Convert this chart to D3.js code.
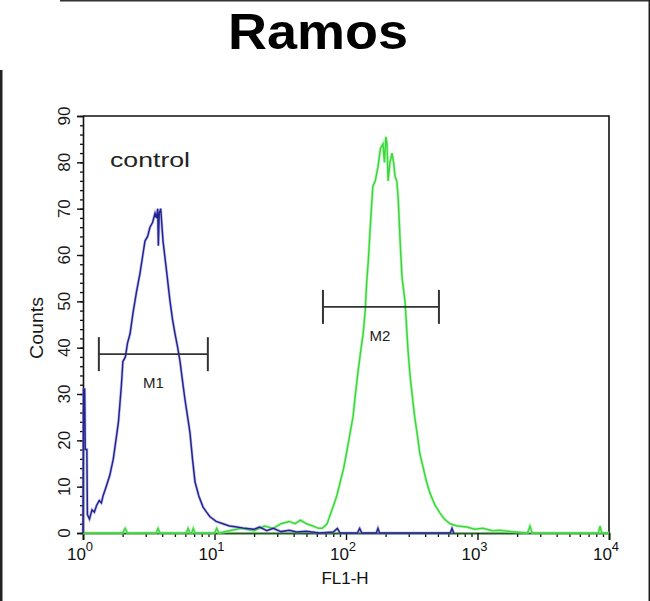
<!DOCTYPE html>
<html>
<head>
<meta charset="utf-8">
<script src="https://cdn.jsdelivr.net/npm/d3@7"></script>
<style>
  html, body { margin: 0; padding: 0; background: #fff; }
  svg { display: block; }
  text { font-family: "Liberation Sans", Arial, sans-serif; }
</style>
</head>
<body>
<svg id="chart" width="650" height="601"></svg>
<script>
// ---------------- data ----------------
const chartTitle = "Ramos";
const xLabel = "FL1-H";
const yLabel = "Counts";
const annotation = "control";
const xTickExponents = [0, 1, 2, 3, 4];
const yTickValues = [0, 10, 20, 30, 40, 50, 60, 70, 80, 90];

// control histogram (blue)
const controlFL1 = [1.00, 1.01, 1.03, 1.04, 1.07, 1.08, 1.12, 1.17, 1.22, 1.27, 1.33, 1.38, 1.42, 1.50, 1.60, 1.70, 1.80, 1.86, 1.91, 1.96, 2.01, 2.10, 2.18, 2.28, 2.40, 2.55, 2.71, 2.85, 2.96, 3.10, 3.23, 3.38, 3.53, 3.62, 3.70, 3.74, 3.80, 3.90, 4.06, 4.30, 4.59, 4.80, 5.01, 5.25, 5.47, 5.70, 5.97, 6.25, 6.51, 6.80, 7.11, 7.60, 8.18, 8.70, 9.24, 10.3, 11.6, 13.0, 14.8, 17.0, 20.0, 22.0, 25.0, 28.0, 32.0, 37.0, 42.0, 50.0, 63.0, 80.0, 86.0, 90.0, 100, 122, 127, 132, 170, 175, 180, 400, 620, 640, 660];
const controlCounts = [0, 31, 31, 18, 18, 4, 3, 5, 4.5, 6, 7, 6.5, 8, 10, 12.5, 16, 21, 24, 28, 32, 37, 38, 41, 43, 47.5, 52, 56, 60, 63, 64, 66, 67, 69, 68, 70, 62, 69, 70, 63, 57, 50, 46, 43, 40, 37, 33, 28.7, 25, 21.6, 16, 11, 8, 5.6, 4.5, 3.5, 2.5, 2, 1.5, 1.3, 1, 0.8, 1.3, 0.5, 1, 0.3, 0.6, 0.2, 0.4, 0, 0.2, 1, 0, 0, 0, 1, 0, 0, 1, 0, 0, 0, 1, 0];

// sample histogram (green)
const sampleFL1 = [1.00, 2.00, 2.09, 2.18, 3.60, 3.72, 3.85, 6.10, 6.30, 6.50, 6.70, 6.90, 7.10, 10.0, 10.4, 10.8, 13.0, 16.0, 20.0, 24.0, 28.0, 32.0, 37.0, 41.0, 45.0, 50.0, 56.0, 62.0, 66.0, 71.8, 76.0, 79.6, 85.0, 90.0, 96.0, 102, 108, 113, 118, 123, 129, 135, 140, 144, 148, 152, 156, 160, 167, 175, 183, 191, 196, 201, 205, 209, 216, 224, 230, 236, 243, 249, 258, 267, 281, 296, 307, 318, 333, 347, 365, 385, 410, 435, 475, 519, 560, 618, 700, 832, 950, 1100, 1300, 1483, 1800, 2400, 2507, 2600, 8300, 8545, 8800, 10000];
const sampleCounts = [0, 0, 1, 0, 0, 1, 0, 0, 1, 0, 0, 1, 0, 0, 1, 0, 0.5, 1, 0.5, 1.5, 1, 2, 2.5, 2, 2.8, 2, 1.5, 1, 1, 2, 4, 5.6, 8, 10.8, 14, 18, 22, 25, 30, 34.5, 39, 43, 48, 54.6, 59, 64.8, 70, 74.8, 76, 79, 83, 84, 80, 85.5, 84, 76, 80, 82, 80, 77, 76, 72.6, 63, 55, 50, 39.5, 34, 30, 25, 21.6, 17, 14.3, 11, 8.6, 6, 4.3, 3, 2, 1.5, 1.3, 0.8, 1, 0.5, 0.6, 0.3, 0, 1.5, 0, 0, 1.5, 0, 0];

// gate markers
const markerNames = ["M1", "M2"];
const markerLow = [1.32, 66.8];
const markerHigh = [8.9, 509];
const markerLevel = [38.6, 48.8];

// ---------------- drawing ----------------
const svg = d3.select("#chart");
const W = 650, H = 601;
const plot = { left: 83, right: 609, top: 116, bottom: 533 };

svg.append("rect").attr("width", W).attr("height", H).attr("fill", "#fff");

// outer image frame traces
svg.append("rect").attr("x", 0).attr("y", 70).attr("width", 2.5).attr("height", H - 70).attr("fill", "#222");
svg.append("rect").attr("x", 60).attr("y", 0).attr("width", W - 60).attr("height", 1.5).attr("fill", "#333");
svg.append("rect").attr("x", W - 1.5).attr("y", 0).attr("width", 1.5).attr("height", H).attr("fill", "#222");

const x = d3.scaleLog().domain([1, 10000]).range([plot.left, plot.right]);
const y = d3.scaleLinear().domain([0, 90]).range([plot.bottom, plot.top]);

// title
svg.append("text")
  .attr("x", 318).attr("y", 49)
  .attr("text-anchor", "middle")
  .attr("font-size", 50).attr("font-weight", "bold")
  .attr("textLength", 180).attr("lengthAdjust", "spacingAndGlyphs")
  .attr("fill", "#000")
  .text(chartTitle);

// frame (top & right)
svg.append("path")
  .attr("d", `M${plot.left},${plot.top}H${plot.right}V${plot.bottom}`)
  .attr("fill", "none").attr("stroke", "#111").attr("stroke-width", 1.6);

// y axis
const yMinor = d3.range(0, 91, 2);
const yAxisG = svg.append("g").attr("transform", `translate(${plot.left},0)`);
yAxisG.call(d3.axisLeft(y).tickValues(yMinor).tickSize(3).tickFormat(""))
  .call(g => g.select(".domain").remove())
  .call(g => g.selectAll("line").attr("stroke", "#111").attr("stroke-width", 1.3));
yAxisG.append("g").call(d3.axisLeft(y).tickValues(yTickValues).tickSize(6).tickFormat(""))
  .call(g => g.select(".domain").attr("stroke", "#111").attr("stroke-width", 1.6))
  .call(g => g.selectAll("line").attr("stroke", "#111").attr("stroke-width", 1.4));

// y tick labels (rotated)
svg.append("g").selectAll("text").data(yTickValues).join("text")
  .attr("transform", d => `translate(70,${y(d)}) rotate(-90)`)
  .attr("text-anchor", "middle")
  .attr("font-size", 17)
  .attr("fill", "#1a1a1a")
  .text(d => d);

svg.append("text")
  .attr("transform", `translate(43,328) rotate(-90)`)
  .attr("text-anchor", "middle")
  .attr("font-size", 18)
  .attr("textLength", 62).attr("lengthAdjust", "spacingAndGlyphs")
  .attr("fill", "#1a1a1a")
  .text(yLabel);

// x axis
const xMinor = [];
xTickExponents.slice(0, -1).forEach(e => { for (let k = 2; k <= 9; k++) xMinor.push(k * Math.pow(10, e)); });
const xAxisG = svg.append("g").attr("transform", `translate(0,${plot.bottom})`);
xAxisG.call(d3.axisBottom(x).tickValues(xMinor).tickSize(4).tickFormat(""))
  .call(g => g.select(".domain").remove())
  .call(g => g.selectAll("line").attr("stroke", "#111").attr("stroke-width", 1.3));
xAxisG.append("g").call(d3.axisBottom(x).tickValues(xTickExponents.map(e => Math.pow(10, e))).tickSize(7).tickFormat(""))
  .call(g => g.select(".domain").attr("stroke", "#1d5f1d").attr("stroke-width", 2))
  .call(g => g.selectAll("line").attr("stroke", "#111").attr("stroke-width", 1.4));

// x tick labels 10^n
const xl = svg.append("g").selectAll("text").data(xTickExponents).join("text")
  .attr("x", d => x(Math.pow(10, d)) - 3)
  .attr("y", 560)
  .attr("text-anchor", "middle")
  .attr("font-size", 17)
  .attr("fill", "#111");
xl.append("tspan").text("10");
xl.append("tspan").attr("font-size", 13).attr("dy", -9).text(d => d);

svg.append("text")
  .attr("x", 345).attr("y", 584)
  .attr("text-anchor", "middle")
  .attr("font-size", 17)
  .attr("fill", "#111")
  .text(xLabel);

// histograms
const line = d3.line().x(d => x(d[0])).y(d => y(d[1]));
const controlData = controlFL1.map((v, i) => [v, controlCounts[i]]);
const sampleData = sampleFL1.map((v, i) => [v, sampleCounts[i]]);

svg.append("path").datum(sampleData)
  .attr("d", line).attr("fill", "none")
  .attr("stroke", "#9ef09e").attr("stroke-width", 3).attr("stroke-opacity", 0.6);
svg.append("path").datum(sampleData)
  .attr("d", line).attr("fill", "none")
  .attr("stroke", "#3bd83b").attr("stroke-width", 1.5);

svg.append("path").datum(controlData)
  .attr("d", line).attr("fill", "none")
  .attr("stroke", "#8a8ae0").attr("stroke-width", 3).attr("stroke-opacity", 0.45);
svg.append("path").datum(controlData)
  .attr("d", line).attr("fill", "none")
  .attr("stroke", "#24248f").attr("stroke-width", 1.5);

// annotation
svg.append("text")
  .attr("x", 110).attr("y", 167)
  .attr("font-size", 21)
  .attr("textLength", 80).attr("lengthAdjust", "spacingAndGlyphs")
  .attr("fill", "#222")
  .text(annotation);

// markers
const mk = svg.append("g");
markerNames.forEach((name, i) => {
  const x0 = x(markerLow[i]), x1 = x(markerHigh[i]), yy = y(markerLevel[i]);
  mk.append("line").attr("x1", x0).attr("x2", x1).attr("y1", yy).attr("y2", yy)
    .attr("stroke", "#333").attr("stroke-width", 1.8);
  [x0, x1].forEach(xx => mk.append("line").attr("x1", xx).attr("x2", xx)
    .attr("y1", yy - 17).attr("y2", yy + 17)
    .attr("stroke", "#333").attr("stroke-width", 2));
  mk.append("text")
    .attr("x", (x0 + x1) / 2 + (i === 0 ? 0 : -1))
    .attr("y", yy + 34)
    .attr("text-anchor", "middle")
    .attr("font-size", 15)
    .attr("fill", "#222")
    .text(name);
});
</script>
</body>
</html>
